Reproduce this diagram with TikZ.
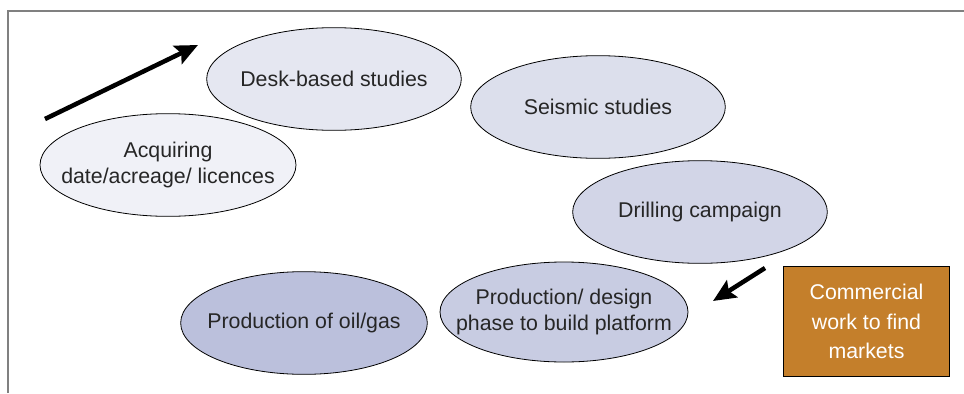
\documentclass[tikz,border=0pt]{standalone}
\usepackage{fontspec}
\setmainfont{Liberation Sans}
\usepackage{tikz}
\usetikzlibrary{shapes.geometric,arrows.meta}
\definecolor{phaseA}{HTML}{F0F1F7}
\definecolor{phaseB}{HTML}{E5E7F1}
\definecolor{phaseC}{HTML}{DCDFEC}
\definecolor{phaseD}{HTML}{D2D5E7}
\definecolor{phaseE}{HTML}{C8CCE2}
\definecolor{phaseF}{HTML}{BBC0DC}
\definecolor{ochre}{HTML}{C47F2B}
\tikzset{
  phase/.style={ellipse,draw=black,line width=0.6pt,inner sep=-40pt,outer sep=0pt,
    minimum width=191pt,minimum height=77pt,align=center,
    font=\fontsize{16}{19}\selectfont,text=black!85},
  bigarrow/.style={line width=3.4pt,-{Stealth[length=17pt,width=15pt,inset=3pt]}}
}

\begin{document}
\begin{tikzpicture}[x=0.75pt,y=-0.75pt]
%\draw[help lines] (0,0) grid (964,393);
\useasboundingbox (0,0) rectangle (964,393);
\draw[gray,line width=1.6pt] (8,393)--(8,11)--(964,11);

\node[phase,fill=phaseA,minimum width=192pt] (acq) at (168,165) {Acquiring\\date/acreage/ licences};
\node[phase,fill=phaseB] (desk) at (334,79) {Desk-based studies};
\node[phase,fill=phaseC] (seis) at (598,107) {Seismic studies};
\node[phase,fill=phaseD] (drill) at (700,212) {Drilling campaign};
\node[phase,fill=phaseE,minimum width=186pt,minimum height=75pt] (design) at (564,312) {Production/ design\\phase to build platform};
\node[phase,fill=phaseF,minimum width=185pt,minimum height=77pt] (prod) at (304,323) {Production of oil/gas};

\node[draw=black,line width=0.6pt,fill=ochre,text=white,minimum width=124pt,minimum height=83pt,
  align=center,font=\fontsize{16}{22}\selectfont] (comm) at (866.5,321.5) {Commercial\\work to find\\markets};

%arrows showing the direction of the cycle
\coordinate (up0) at (45,119);
\coordinate (up1) at (198,45);
\draw[bigarrow] (up0)--(up1);
\coordinate (dn0) at (765,268);
\coordinate (dn1) at (713,301);
\draw[bigarrow] (dn0)--(dn1);
\end{tikzpicture}
\end{document}
